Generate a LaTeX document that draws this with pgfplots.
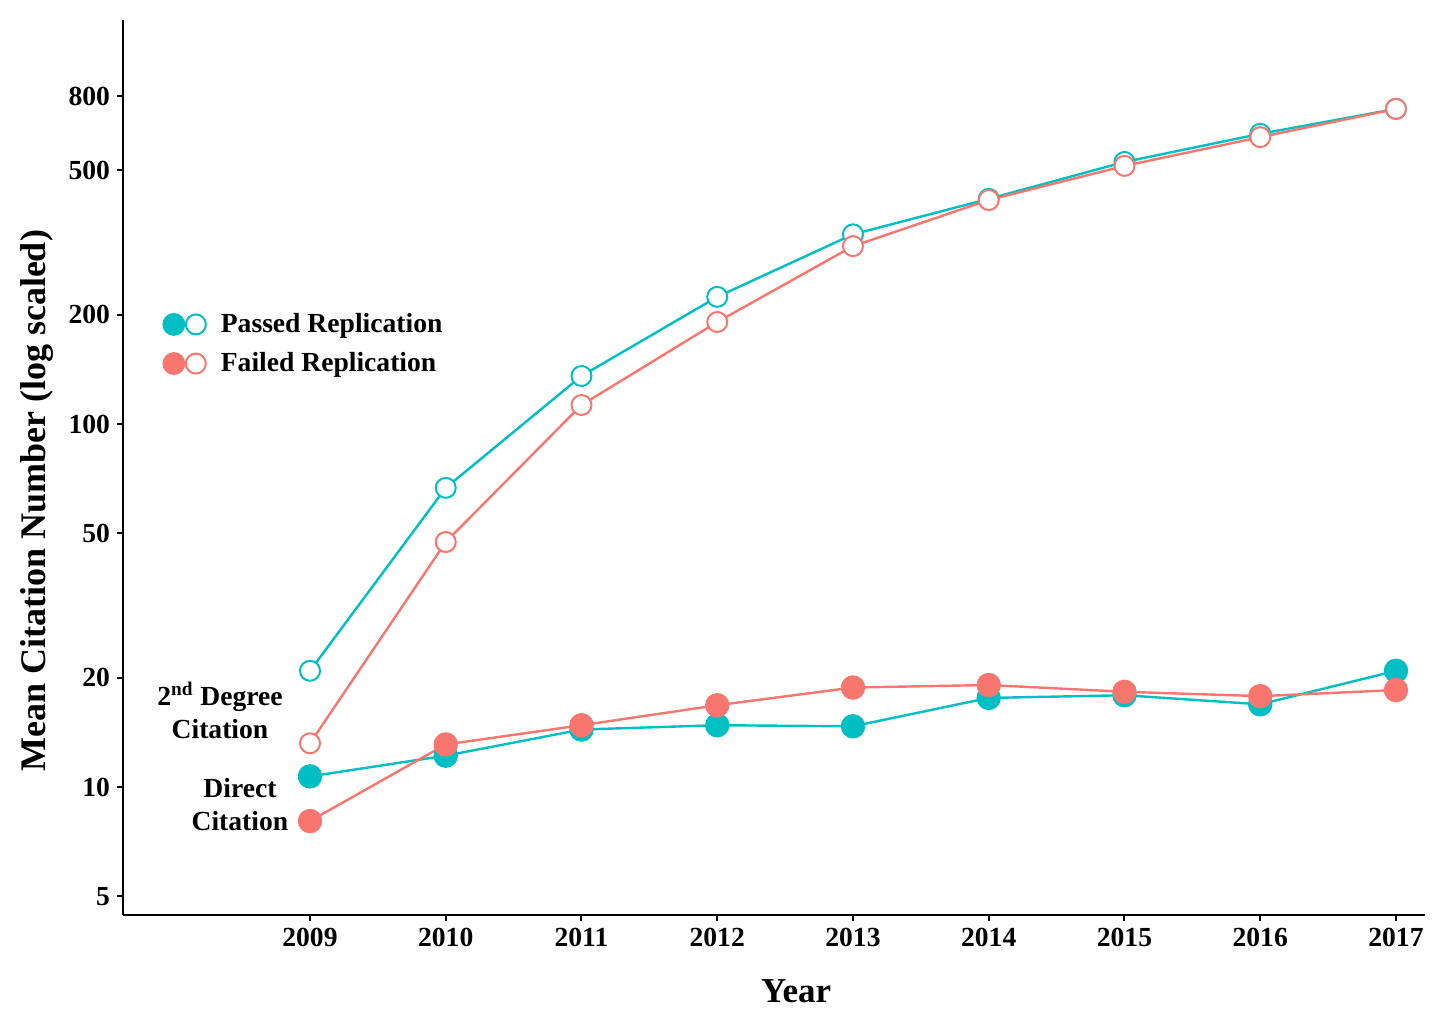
\documentclass[border=0pt]{standalone}
\usepackage{pgfplots}
\pgfplotsset{compat=1.18}
\usepackage{fontspec}
\setmainfont{Liberation Serif}
\definecolor{cteal}{HTML}{00BFC4}
\definecolor{cred}{HTML}{F8766D}
\newcommand{\fs}{\fontsize{13.8pt}{16.5pt}\selectfont\bfseries}
\newcommand{\fl}{\fontsize{17.5pt}{20pt}\selectfont\bfseries}
\newcommand{\fy}{\fontsize{18pt}{20pt}\selectfont\bfseries}
\begin{document}
\begin{tikzpicture}
\path[use as bounding box] (0,0) rectangle (728pt,512pt);
\begin{axis}[
  at={(61.5pt,54.5pt)}, anchor=south west,
  scale only axis, width=651pt, height=447.5pt,
  ymode=log,
  xmin=2007.6225, xmax=2017.214,
  ymin=4.441, ymax=1297,
  axis x line*=bottom, axis y line*=left,
  axis line style={line width=1pt, black},
  tick align=outside, major tick length=3pt,
  tick style={line width=1pt, black},
  xtick={2009,2010,2011,2012,2013,2014,2015,2016,2017},
  xticklabels={2009,2010,2011,2012,2013,2014,2015,2016,2017},
  ytick={5,10,20,50,100,200,500,800},
  yticklabels={5,10,20,50,100,200,500,800},
  minor ytick={}, minor tick length=0pt,
  ticklabel style={font=\fs},
  xlabel={Year}, ylabel={Mean Citation Number (log scaled)},
  every axis x label/.style={at={(rel axis cs:0.517,0)}, anchor=base, yshift=-43.5pt, font=\fl},
  every axis y label/.style={at={([xshift=-43pt]rel axis cs:0,0.4626)}, rotate=90, anchor=center, font=\fy},
  legend style={at={(rel axis cs:0.030,0.638)}, anchor=west, draw=none, fill=none, inner sep=0pt, row sep=4.5pt, font=\fs},
  legend cell align=left,
  clip=false,
]
\addlegendimage{legend image code/.code={
  \path[draw=none, fill=none] (0pt,-1pt) rectangle (27pt,1pt);
  \fill[cteal] (5.5pt,0pt) circle (5.5pt);
  \draw[cteal, line width=1pt, fill=white] (16.5pt,0pt) circle (5pt);
}}
\addlegendentry{Passed Replication}
\addlegendimage{legend image code/.code={
  \path[draw=none, fill=none] (0pt,-1pt) rectangle (27pt,1pt);
  \fill[cred] (5.5pt,0pt) circle (5.5pt);
  \draw[cred, line width=1pt, fill=white] (16.5pt,0pt) circle (5pt);
}}
\addlegendentry{Failed Replication}

% Passed, direct
\addplot[cteal, line width=1.2pt, mark=*, mark size=5.5pt, mark options={fill=cteal, draw=cteal}, forget plot]
coordinates {(2009,10.7) (2010,12.2) (2011,14.4) (2012,14.8) (2013,14.7) (2014,17.6) (2015,17.9) (2016,16.9) (2017,20.9)};
% Passed, 2nd degree
\addplot[cteal, line width=1.2pt, mark=*, mark size=5pt, mark options={fill=white, draw=cteal, line width=1pt}, forget plot]
coordinates {(2009,20.9) (2010,66.7) (2011,135.6) (2012,224) (2013,333) (2014,417) (2015,527) (2016,630) (2017,738)};
% Failed, direct
\addplot[cred, line width=1.2pt, mark=*, mark size=5.5pt, mark options={fill=cred, draw=cred}, forget plot]
coordinates {(2009,8.06) (2010,13.1) (2011,14.8) (2012,16.8) (2013,18.8) (2014,19.1) (2015,18.3) (2016,17.8) (2017,18.5)};
% Failed, 2nd degree
\addplot[cred, line width=1.2pt, mark=*, mark size=5pt, mark options={fill=white, draw=cred, line width=1pt}, forget plot]
coordinates {(2009,13.2) (2010,47.3) (2011,112.8) (2012,191) (2013,309) (2014,414) (2015,514) (2016,617) (2017,738)};

\node[font=\fs, align=center, inner sep=0pt] at (axis cs:2008.337,16.25) {2\textsuperscript{nd} Degree\\Citation};
\node[font=\fs, align=center, inner sep=0pt] at (axis cs:2008.484,8.92) {Direct\\Citation};
\end{axis}
\end{tikzpicture}
\end{document}
